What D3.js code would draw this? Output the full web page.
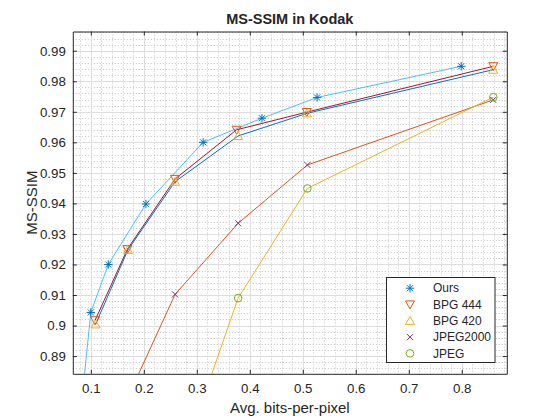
<!DOCTYPE html>
<html>
<head>
<meta charset="utf-8">
<script src="https://cdn.jsdelivr.net/npm/d3@7"></script>
<style>
  body { margin: 0; background: #fff; }
  text { font-family: "Liberation Sans", Arial, Helvetica, sans-serif; fill: #262626; }
</style>
</head>
<body>
<div class="chart-container"></div>
<script>
// values (first point of some curves sits below the visible axis)
const seriesNames = ["Ours", "BPG 444", "BPG 420", "JPEG2000", "JPEG"];
const oursBpp = [0.085, 0.100, 0.133, 0.204, 0.312, 0.423, 0.527, 0.799];
const oursSsim = [0.8788, 0.9043, 0.9200, 0.9398, 0.9600, 0.9679, 0.9747, 0.9849];
const bpg444Bpp = [0.108, 0.169, 0.259, 0.375, 0.5075, 0.8595];
const bpg444Ssim = [0.9017, 0.9250, 0.9480, 0.9641, 0.9699, 0.9849];
const bpg420Bpp = [0.109, 0.170, 0.259, 0.378, 0.508, 0.8595];
const bpg420Ssim = [0.9004, 0.9248, 0.9471, 0.9621, 0.9695, 0.9838];
const jp2kBpp = [0.170, 0.259, 0.378, 0.5087, 0.8595];
const jp2kSsim = [0.8765, 0.9102, 0.9335, 0.9526, 0.9739];
const jpegBpp = [0.310, 0.378, 0.5087, 0.8595];
const jpegSsim = [0.8750, 0.9090, 0.9449, 0.9748];

const xTicks = [0.1, 0.2, 0.3, 0.4, 0.5, 0.6, 0.7, 0.8];
const yTicks = [0.89, 0.90, 0.91, 0.92, 0.93, 0.94, 0.95, 0.96, 0.97, 0.98, 0.99];
const xTickLabels = ["0.1", "0.2", "0.3", "0.4", "0.5", "0.6", "0.7", "0.8"];
const yTickLabels = ["0.89", "0.9", "0.91", "0.92", "0.93", "0.94", "0.95", "0.96", "0.97", "0.98", "0.99"];

const lineColors = ["#4DBEEE", "#A2142F", "#0072BD", "#D95319", "#EDB120"];
const markerColors = ["#0072BD", "#D95319", "#EDB120", "#7E2F8E", "#77AC30"];
const markerTypes = ["asterisk", "triangleDown", "triangleUp", "cross", "circle"];

const series = [
  [oursBpp, oursSsim], [bpg444Bpp, bpg444Ssim], [bpg420Bpp, bpg420Ssim],
  [jp2kBpp, jp2kSsim], [jpegBpp, jpegSsim]
].map((s, i) => ({
  name: seriesNames[i],
  points: s[0].map((x, j) => ({ x: x, y: s[1][j] })),
  line: lineColors[i],
  color: markerColors[i],
  marker: markerTypes[i]
}));

function markerPath(type) {
  const p = d3.path();
  if (type === "asterisk") {
    const r = 4.2, k = 3;
    p.moveTo(-r, 0); p.lineTo(r, 0);
    p.moveTo(0, -r); p.lineTo(0, r);
    p.moveTo(-k, -k); p.lineTo(k, k);
    p.moveTo(-k, k); p.lineTo(k, -k);
  } else if (type === "triangleDown") {
    p.moveTo(-4.5, -3.6); p.lineTo(4.5, -3.6); p.lineTo(0, 4.4); p.closePath();
  } else if (type === "triangleUp") {
    p.moveTo(-4.5, 3.6); p.lineTo(4.5, 3.6); p.lineTo(0, -4.4); p.closePath();
  } else if (type === "cross") {
    const k = 3;
    p.moveTo(-k, -k); p.lineTo(k, k);
    p.moveTo(-k, k); p.lineTo(k, -k);
  } else {
    p.arc(0, 0, 3.8, 0, 2 * Math.PI);
  }
  return p.toString();
}

const width = 560, height = 420;
const margin = { top: 31.5, right: 53.2, bottom: 46.2, left: 72.8 };

const svg = d3.select(".chart-container")
  .append("svg")
  .attr("width", width)
  .attr("height", height)
  .attr("viewBox", `0 0 ${width} ${height}`);

const xScale = d3.scaleLinear()
  .domain([0.066, 0.885])
  .range([margin.left, width - margin.right]);

const yScale = d3.scaleLinear()
  .domain([0.8842, 0.9963])
  .range([height - margin.bottom, margin.top]);

const x0 = margin.left, x1 = width - margin.right;
const y0 = height - margin.bottom, y1 = margin.top;

svg.append("defs").append("clipPath")
  .attr("id", "plot-clip")
  .append("rect")
  .attr("x", x0).attr("y", y1)
  .attr("width", x1 - x0).attr("height", y0 - y1);

// minor grid (dotted)
const xMinor = d3.range(0.08, 0.885, 0.02).filter(v => Math.abs(Math.round(v * 10) - v * 10) > 1e-6);
const yMinor = d3.range(0.886, 0.9963, 0.002).filter(v => Math.abs(Math.round(v * 100) - v * 100) > 1e-6);

const grid = svg.append("g");
grid.selectAll(".xminor")
  .data(xMinor)
  .enter().append("line")
  .attr("x1", d => Math.round(xScale(d)) + 0.5).attr("x2", d => Math.round(xScale(d)) + 0.5)
  .attr("y1", y1).attr("y2", y0)
  .attr("stroke", "#c4c4c4").attr("stroke-dasharray", "1,2");
grid.selectAll(".yminor")
  .data(yMinor)
  .enter().append("line")
  .attr("y1", d => Math.round(yScale(d)) + 0.5).attr("y2", d => Math.round(yScale(d)) + 0.5)
  .attr("x1", x0).attr("x2", x1)
  .attr("stroke", "#c4c4c4").attr("stroke-dasharray", "1,2");

// major grid
grid.selectAll(".xmajor")
  .data(xTicks)
  .enter().append("line")
  .attr("x1", d => Math.round(xScale(d)) + 0.5).attr("x2", d => Math.round(xScale(d)) + 0.5)
  .attr("y1", y1).attr("y2", y0)
  .attr("stroke", "#dedede");
grid.selectAll(".ymajor")
  .data(yTicks)
  .enter().append("line")
  .attr("y1", d => Math.round(yScale(d)) + 0.5).attr("y2", d => Math.round(yScale(d)) + 0.5)
  .attr("x1", x0).attr("x2", x1)
  .attr("stroke", "#dedede");

// curves and markers
const plot = svg.append("g").attr("clip-path", "url(#plot-clip)");
const lineGen = d3.line().x(d => xScale(d.x)).y(d => yScale(d.y));

plot.selectAll(".curve")
  .data(series)
  .enter().append("path")
  .attr("class", "curve")
  .attr("d", d => lineGen(d.points))
  .attr("fill", "none")
  .attr("stroke", d => d.line)
  .attr("stroke-width", 1);

series.forEach(s => {
  plot.selectAll(null)
    .data(s.points)
    .enter().append("path")
    .attr("transform", d => `translate(${xScale(d.x)},${yScale(d.y)})`)
    .attr("d", markerPath(s.marker))
    .attr("fill", "none")
    .attr("stroke", s.color)
    .attr("stroke-width", 1);
});

// axes: ticks inside on all four sides
const fmtX = d => xTickLabels[xTicks.indexOf(d)];
const fmtY = d => yTickLabels[yTicks.indexOf(d)];

const xAxis = d3.axisBottom(xScale).tickValues(xTicks).tickFormat(fmtX)
  .tickSizeInner(-4).tickSizeOuter(0).tickPadding(10);
const yAxis = d3.axisLeft(yScale).tickValues(yTicks).tickFormat(fmtY)
  .tickSizeInner(-4).tickSizeOuter(0).tickPadding(7);

function styleAxis(g) {
  g.selectAll("path, line").attr("stroke", "#262626");
  g.selectAll("text").style("font-size", "13.3px").attr("fill", "#262626");
}

svg.append("g")
  .attr("transform", `translate(0, ${y0})`)
  .call(xAxis).call(styleAxis).attr("font-family", null);
svg.append("g")
  .attr("transform", `translate(0, ${y1})`)
  .call(d3.axisTop(xScale).tickValues(xTicks).tickFormat("").tickSizeInner(-4).tickSizeOuter(0))
  .call(styleAxis);
svg.append("g")
  .attr("transform", `translate(${x0}, 0)`)
  .call(yAxis).call(styleAxis).attr("font-family", null);
svg.append("g")
  .attr("transform", `translate(${x1}, 0)`)
  .call(d3.axisRight(yScale).tickValues(yTicks).tickFormat("").tickSizeInner(-4).tickSizeOuter(0))
  .call(styleAxis);

// title and labels
svg.append("text")
  .attr("x", (x0 + x1) / 2).attr("y", 24)
  .attr("text-anchor", "middle")
  .style("font-size", "14.5px").style("font-weight", "bold")
  .text("MS-SSIM in Kodak");

svg.append("text")
  .attr("x", (x0 + x1) / 2).attr("y", 413)
  .attr("text-anchor", "middle")
  .style("font-size", "15px")
  .text("Avg. bits-per-pixel");

svg.append("text")
  .attr("transform", `translate(37, ${(y0 + y1) / 2}) rotate(-90)`)
  .attr("text-anchor", "middle")
  .style("font-size", "15px")
  .text("MS-SSIM");

// legend
const legend = svg.append("g").attr("transform", "translate(386.5, 277.5)");
legend.append("rect")
  .attr("width", 108.5).attr("height", 85)
  .attr("fill", "#fff").attr("stroke", "#262626");

const rows = legend.selectAll(".entry")
  .data(series)
  .enter().append("g")
  .attr("class", "entry")
  .attr("transform", (d, i) => `translate(0, ${10.7 + i * 16.3})`);
rows.append("path")
  .attr("transform", "translate(23.5, 0)")
  .attr("d", d => markerPath(d.marker))
  .attr("fill", "none")
  .attr("stroke", d => d.color);
rows.append("text")
  .attr("x", 46.5).attr("dy", "0.35em")
  .style("font-size", "12px")
  .text(d => d.name);
</script>
</body>
</html>
